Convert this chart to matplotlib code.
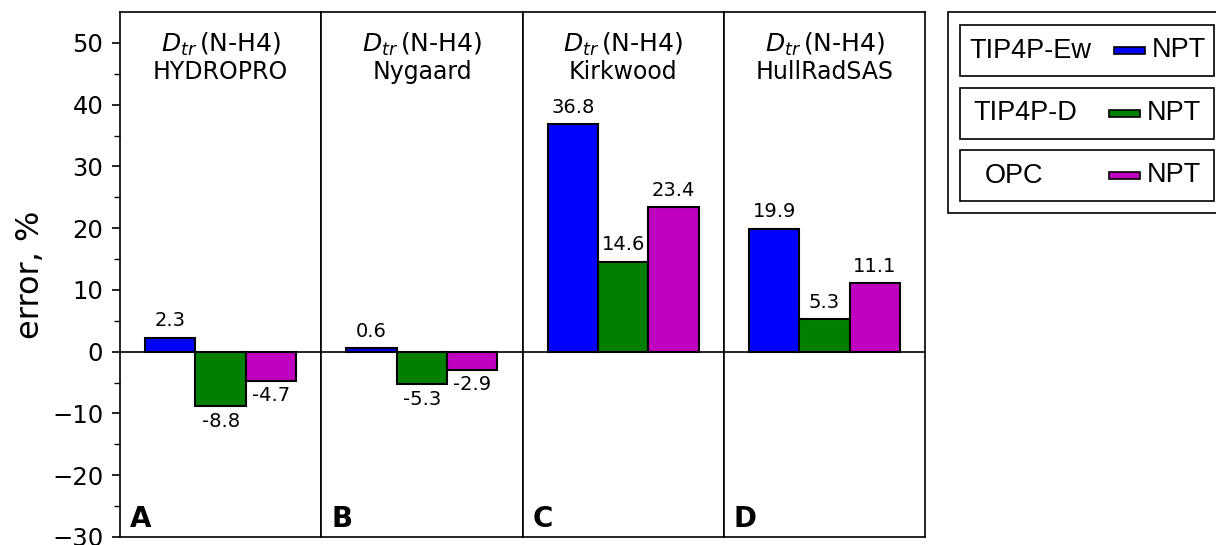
import matplotlib.pyplot as plt
from matplotlib.patches import Rectangle

# data
methods = ["HYDROPRO", "Nygaard", "Kirkwood", "HullRadSAS"]
panel_letters = ["A", "B", "C", "D"]
models = ["TIP4P-Ew", "TIP4P-D", "OPC"]
colors = ["#0000ff", "#008000", "#bf00bf"]
ensemble = "NPT"
errors = [
    [2.3, -8.8, -4.7],
    [0.6, -5.3, -2.9],
    [36.8, 14.6, 23.4],
    [19.9, 5.3, 11.1],
]

fig = plt.figure(figsize=(12.16, 5.45), dpi=100)

left, bottom, pw, ph = 120 / 1216, 8 / 545, 201.3 / 1216, 525 / 545
for i, m in enumerate(methods):
    ax = fig.add_axes([left + i * pw, bottom, pw, ph])
    for s in ax.spines.values():
        s.set_linewidth(1.2)
    x = range(1, len(models) + 1)
    bars = ax.bar(x, errors[i], width=1, color=colors, edgecolor="black", linewidth=1.5)
    for b, v in zip(bars, errors[i]):
        if v >= 0:
            ax.text(b.get_x() + 0.5, v + 1.2, f"{v}", ha="center", va="bottom", fontsize=14)
        else:
            ax.text(b.get_x() + 0.5, v - 0.9, f"{v}", ha="center", va="top", fontsize=14)
    ax.axhline(0, color="black", linewidth=1.2)
    ax.set_xlim(0, 4)
    ax.set_ylim(-30, 55)
    ax.set_xticks([])
    ax.text(0.5, 0.939, r"$D_{tr}\,$(N-H4)", transform=ax.transAxes,
            ha="center", va="center", fontsize=18)
    ax.text(0.5, 0.886, m, transform=ax.transAxes, ha="center", va="center", fontsize=17)
    ax.text(0.05, 0.019, panel_letters[i], transform=ax.transAxes, ha="left",
            va="baseline", fontsize=20, fontweight="bold")
    if i == 0:
        ax.set_yticks(range(-30, 51, 10))
        ax.set_yticks(range(-25, 55, 10), minor=True)
        ax.tick_params(axis="y", which="major", labelsize=17.5, length=6, width=1.2, pad=6)
        ax.tick_params(axis="y", which="minor", length=4, width=1)
        ax.set_ylabel("error, %", fontsize=23)
        ax.yaxis.set_label_coords(-0.37, 0.5)
    else:
        ax.set_yticks([])

# legend boxes drawn on their own axes
lax = fig.add_axes([948 / 1216, 332 / 545, 270 / 1216, 201 / 545])
lax.set_xlim(0, 270)
lax.set_ylim(201, 0)
lax.axis("off")
lax.add_patch(Rectangle((0, 0), 269, 201, fill=False, edgecolor="black", linewidth=1.2, clip_on=False))
text_x = [21, 25, 37]
patch_x = [166, 161, 161]
for k, name in enumerate(models):
    y0 = 13 + k * 62.5
    lax.add_patch(Rectangle((12, y0), 254, 51, fill=False, edgecolor="black", linewidth=1.2))
    lax.text(text_x[k], y0 + 26, name, ha="left", va="center",
             fontsize=19.5, family="Liberation Sans")
    px = patch_x[k]
    lax.add_patch(Rectangle((px, y0 + 22), 31, 7, facecolor=colors[k], edgecolor="black", linewidth=1.2))
    lax.text(px + 38, y0 + 25, ensemble, ha="left", va="center", fontsize=19.5,
             family="Liberation Sans")

fig.savefig("out.png", dpi=100)
